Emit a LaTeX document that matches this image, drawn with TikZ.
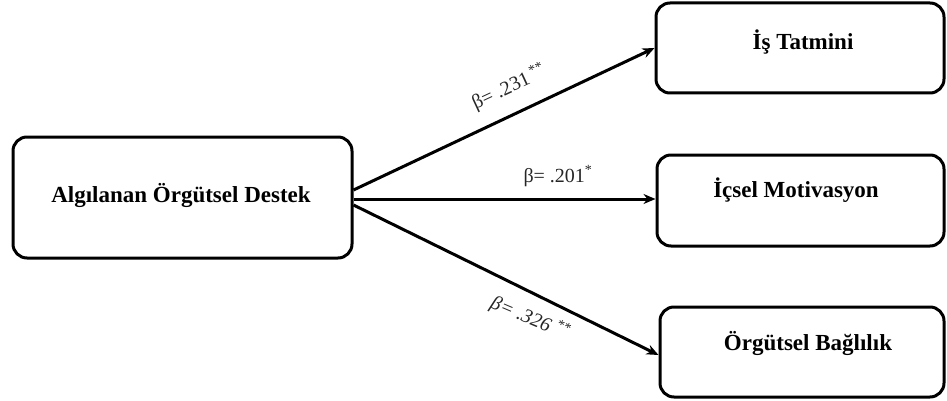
\documentclass[tikz,border=0pt]{standalone}
\usepackage{fontspec}
\setmainfont{Liberation Serif}
\usetikzlibrary{arrows.meta}
\tikzset{
  box/.style={draw=black, line width=3pt, rounded corners=14pt, inner sep=0pt},
  boxtext/.style={font=\fontsize{23}{27}\selectfont\bfseries, inner sep=0pt},
  coef/.style={font=\fontsize{20}{24}\selectfont, text=black!85, inner sep=0pt},
  conn/.style={line width=3pt, -{Stealth[length=12pt,width=10pt]}}
}
\begin{document}
\begin{tikzpicture}[x=1pt,y=-1pt]
\useasboundingbox (0,0) rectangle (947,401);
% boxes
\node[box, minimum width=339pt, minimum height=121pt] (src) at (182.5,197.5) {};
\node[box, minimum width=288pt, minimum height=90pt] (b1) at (800,48) {};
\node[box, minimum width=287pt, minimum height=91pt] (b2) at (800.5,200.5) {};
\node[box, minimum width=284pt, minimum height=90pt] (b3) at (802,352) {};
% texts
\node[boxtext] (t0) at (181,195) {Algılanan Örgütsel Destek};
\node[boxtext] (t1) at (803,42) {İş Tatmini};
\node[boxtext] (t2) at (796,190) {İçsel Motivasyon};
\node[boxtext] (t3) at (808,343) {Örgütsel Bağlılık};
% connector anchors
\coordinate (s1) at (src.east |- 0,190);
\coordinate (s2) at (src.east |- 0,199);
\coordinate (s3) at (src.east |- 0,205);
\coordinate (e1) at (b1.west |- 0,48);
\coordinate (e2) at (b2.west |- 0,199);
\coordinate (e3) at (b3.west |- 0,355);
\draw[conn] (s1) -- (e1);
\draw[conn] (s2) -- (e2);
\draw[conn] (s3) -- (e3);
% coefficients
\node[coef, rotate=25] (c1) at (509,87) {β= .231\,\textsuperscript{**}};
\node[coef] (c2) at (558,176) {β= .201\textsuperscript{*}};
\node[coef, rotate=-23, font=\fontsize{20}{24}\selectfont\itshape] (c3) at (530,318) {β= .326 \textsuperscript{**}};
\end{tikzpicture}
\end{document}
